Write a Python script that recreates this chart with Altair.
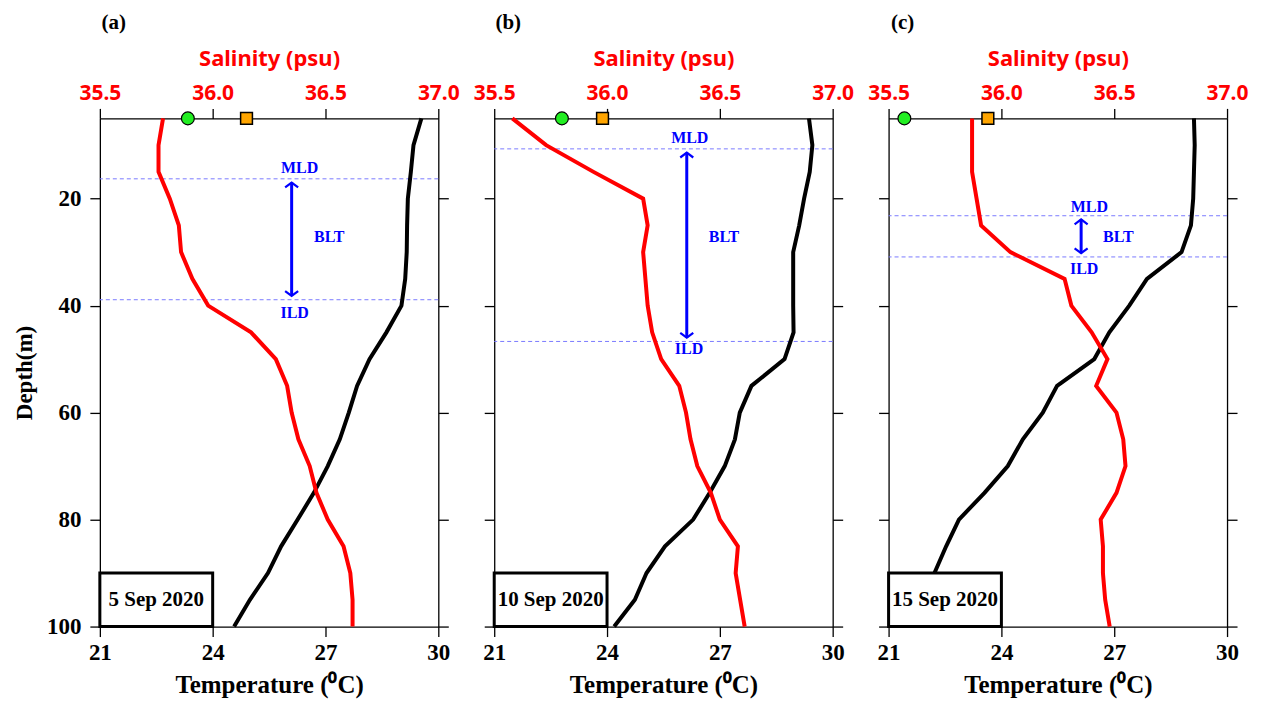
import altair as alt
import pandas as pd

# ---------------- data ----------------
depth = [5, 10, 15, 20, 25, 30, 35, 40, 45, 50, 55, 60, 65, 70, 75, 80, 85, 90, 95, 100]

temp_a = [29.55, 29.34, 29.27, 29.19, 29.17, 29.16, 29.12, 29.02, 28.62, 28.17,
          27.84, 27.62, 27.38, 27.06, 26.69, 26.26, 25.82, 25.47, 24.99, 24.57]
sal_a = [35.78, 35.76, 35.76, 35.81, 35.85, 35.86, 35.91, 35.98, 36.17, 36.28,
         36.33, 36.35, 36.38, 36.43, 36.46, 36.51, 36.58, 36.61, 36.62, 36.62]

temp_b = [29.37, 29.46, 29.39, 29.24, 29.11, 28.95, 28.95, 28.95, 28.96, 28.72,
          27.84, 27.53, 27.40, 27.13, 26.73, 26.29, 25.54, 25.05, 24.74, 24.19]
sal_b = [35.58, 35.73, 35.94, 36.16, 36.18, 36.16, 36.17, 36.18, 36.20, 36.24,
         36.32, 36.35, 36.37, 36.40, 36.46, 36.50, 36.58, 36.57, 36.59, 36.61]

temp_c = [29.12, 29.14, 29.12, 29.10, 29.04, 28.79, 27.87, 27.40, 26.87, 26.47,
          25.48, 25.10, 24.57, 24.17, 23.55, 22.87, 22.53, 22.22, 21.90, 21.60]
sal_c = [35.87, 35.87, 35.87, 35.89, 35.91, 36.04, 36.28, 36.31, 36.40, 36.47,
         36.42, 36.51, 36.54, 36.55, 36.51, 36.44, 36.45, 36.45, 36.46, 36.48]

panel_labels = ["(a)", "(b)", "(c)"]
dates = ["5 Sep 2020", "10 Sep 2020", "15 Sep 2020"]
mld = [16.3, 10.7, 23.2]
ild = [38.9, 46.7, 30.9]
arrow_temp = [26.1, 26.12, 26.12]
circle_sal = [35.89, 35.80, 35.57]
square_sal = [36.15, 35.98, 35.94]
mld_text_pos = [(26.31, 14.2), (26.2, 8.7), (26.34, 21.5)]
blt_text_pos = [(27.1, 27.2), (27.11, 27.2), (27.11, 27.2)]
ild_text_pos = [(26.18, 41.3), (26.18, 48.2), (26.2, 33.1)]

temp_ticks = [21, 24, 27, 30]
sal_ticks = [35.5, 36.0, 36.5, 37.0]
depth_ticks = [20, 40, 60, 80, 100]

temps = [temp_a, temp_b, temp_c]
sals = [sal_a, sal_b, sal_c]

SERIF = "Liberation Serif"
SANS = "Noto Sans"
BLUE = "#0000ff"


def YS():
    return alt.Scale(domain=[5, 100], reverse=True, nice=False, zero=False)


def XT():
    return alt.Scale(domain=[21, 30], nice=False, zero=False)


def XS():
    return alt.Scale(domain=[35.5, 37.0], nice=False, zero=False)


common_axis = dict(domainColor="black", domainWidth=1.3, tickColor="black",
                   tickWidth=1.3, tickSize=10, grid=False, labelOverlap=False,
                   labelFlush=False)


def panel(i):
    first = i == 0
    prof = pd.DataFrame({"depth": depth, "temp": temps[i], "sal": sals[i]})

    y_left = alt.Axis(orient="left", values=depth_ticks, labels=first,
                      title="Depth(m)" if first else None,
                      labelFont=SERIF, labelFontWeight="bold", labelFontSize=23,
                      labelColor="black", labelPadding=9,
                      titleFont=SERIF, titleFontWeight="bold", titleFontSize=23,
                      titleColor="black", titlePadding=10, **common_axis)
    x_bottom = alt.Axis(orient="bottom", values=temp_ticks,
                        title="Temperature (⁰C)",
                        labelFont=SERIF, labelFontWeight="bold", labelFontSize=23,
                        labelColor="black", labelPadding=5,
                        titleFont=SERIF, titleFontWeight="bold", titleFontSize=25,
                        titleColor="black", titlePadding=8, **common_axis)
    y_right = alt.Axis(orient="right", values=depth_ticks, labels=False,
                       title=None, **common_axis)
    x_top = alt.Axis(orient="top", values=sal_ticks, format=".1f",
                     title="Salinity (psu)",
                     labelFont=SANS, labelFontWeight="bold", labelFontSize=21,
                     labelColor="red", labelPadding=5,
                     titleFont=SANS, titleFontWeight="bold", titleFontSize=22,
                     titleColor="red", titlePadding=12, **common_axis)

    lines_df = pd.DataFrame({"depth": [mld[i], ild[i]]})
    dashed = alt.Chart(lines_df).mark_rule(color="#7a7aff", strokeWidth=1,
                                           strokeDash=[4, 3]).encode(
        y=alt.Y("depth:Q", scale=YS(), axis=None)
    )

    temp_line = alt.Chart(prof).mark_line(color="black", strokeWidth=4).encode(
        x=alt.X("temp:Q", scale=XT(), axis=x_bottom),
        y=alt.Y("depth:Q", scale=YS(), axis=y_left),
        order=alt.Order("depth:Q"),
    )

    arr_df = pd.DataFrame({"t": [arrow_temp[i]], "top": [mld[i] + 0.7],
                           "bot": [ild[i] - 0.7]})
    arrow = alt.Chart(arr_df).mark_rule(color=BLUE, strokeWidth=3).encode(
        x=alt.X("t:Q", scale=XT(), axis=None),
        y=alt.Y("top:Q", scale=YS(), axis=None),
        y2="bot:Q",
    )
    head_up = alt.Chart(arr_df).mark_point(
        shape="M -1 0.75 L 0 0 L 1 0.75", filled=False, color=BLUE,
        strokeWidth=2.2, size=170, opacity=1).encode(
        x=alt.X("t:Q", scale=XT(), axis=None),
        y=alt.Y("top:Q", scale=YS(), axis=None),
    )
    head_dn = alt.Chart(arr_df).mark_point(
        shape="M -1 -0.75 L 0 0 L 1 -0.75", filled=False, color=BLUE,
        strokeWidth=2.2, size=170, opacity=1).encode(
        x=alt.X("t:Q", scale=XT(), axis=None),
        y=alt.Y("bot:Q", scale=YS(), axis=None),
    )

    txt_df = pd.DataFrame({
        "label": ["MLD", "BLT", "ILD"],
        "t": [mld_text_pos[i][0], blt_text_pos[i][0], ild_text_pos[i][0]],
        "d": [mld_text_pos[i][1], blt_text_pos[i][1], ild_text_pos[i][1]],
    })
    texts = alt.Chart(txt_df).mark_text(font=SERIF, fontWeight="bold",
                                        fontSize=16, color=BLUE,
                                        align="center", baseline="middle").encode(
        x=alt.X("t:Q", scale=XT(), axis=None),
        y=alt.Y("d:Q", scale=YS(), axis=None),
        text="label:N",
    )

    box_df = pd.DataFrame({"t1": [21.0], "t2": [24.0], "d1": [90.0], "d2": [100.0],
                           "tc": [22.5], "dc": [95.0], "date": [dates[i]]})
    box = alt.Chart(box_df).mark_rect(fill="white", stroke="black",
                                      strokeWidth=3).encode(
        x=alt.X("t1:Q", scale=XT(), axis=None), x2="t2:Q",
        y=alt.Y("d1:Q", scale=YS(), axis=None), y2="d2:Q",
    )
    date_txt = alt.Chart(box_df).mark_text(font=SERIF, fontWeight="bold",
                                           fontSize=21, color="black",
                                           align="center", baseline="middle").encode(
        x=alt.X("tc:Q", scale=XT(), axis=None),
        y=alt.Y("dc:Q", scale=YS(), axis=None),
        text="date:N",
    )

    lab_df = pd.DataFrame({"lab": [panel_labels[i]]})
    plabel = alt.Chart(lab_df).mark_text(font=SERIF, fontWeight="bold",
                                         fontSize=21, color="black",
                                         align="center", baseline="middle").encode(
        x=alt.value(14), y=alt.value(-96), text="lab:N"
    )

    sal_line = alt.Chart(prof).mark_line(color="#ff0000", strokeWidth=4).encode(
        x=alt.X("sal:Q", scale=XS(), axis=x_top),
        y=alt.Y("depth:Q", scale=YS(), axis=y_right),
        order=alt.Order("depth:Q"),
    )
    mk_df = pd.DataFrame({"s": [circle_sal[i]], "q": [square_sal[i]], "d": [5.0]})
    circ = alt.Chart(mk_df).mark_point(shape="circle", filled=True,
                                       fill="#22ee22", stroke="black",
                                       strokeWidth=1.2, size=165, opacity=1).encode(
        x=alt.X("s:Q", scale=XS(), axis=None),
        y=alt.Y("d:Q", scale=YS(), axis=None),
    )
    sq = alt.Chart(mk_df).mark_point(shape="square", filled=True,
                                     fill="#ffa500", stroke="black",
                                     strokeWidth=1.5, size=140, opacity=1).encode(
        x=alt.X("q:Q", scale=XS(), axis=None),
        y=alt.Y("d:Q", scale=YS(), axis=None),
    )

    return (alt.layer(dashed, temp_line, arrow, head_up, head_dn, texts,
                      box, date_txt, sal_line, circ, sq, plabel)
            .resolve_scale(x="independent", y="independent")
            .resolve_axis(x="independent", y="independent")
            .properties(width=339, height=509))


chart = alt.hconcat(panel(0), panel(1), panel(2), spacing=56, bounds="flush").properties(
    padding={"left": 5, "top": 3, "right": 5, "bottom": 5},
    background="white",
).configure_view(stroke=None)

chart.save("out.html", embed_options={"renderer": "svg", "actions": False})
